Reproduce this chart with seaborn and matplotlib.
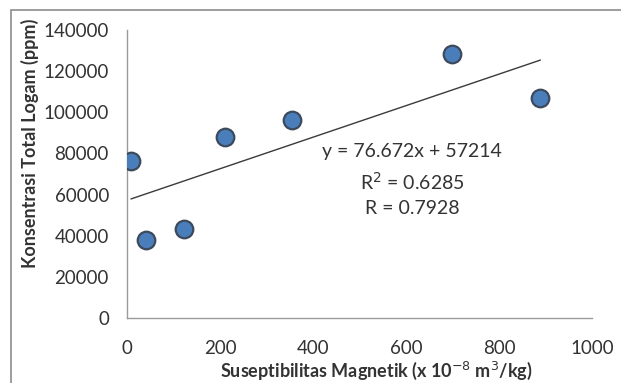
import numpy as np
import pandas as pd
import matplotlib
matplotlib.use('Agg')
import matplotlib.pyplot as plt
from matplotlib.patches import Rectangle
import seaborn as sns

# data
suseptibilitas = [8.5, 41, 123, 210, 355, 699, 889]
konsentrasi = [76550, 37710, 43210, 88040, 96130, 128500, 107140]
slope = 76.672
intercept = 57214
r2 = 0.6285
r = 0.7928

df = pd.DataFrame({'x': suseptibilitas, 'y': konsentrasi})
trend_x = [min(suseptibilitas), max(suseptibilitas)]
trend = pd.DataFrame({'x': trend_x, 'y': [slope * v + intercept for v in trend_x]})

sns.set_style('white')
plt.rcParams['font.family'] = ['Lato', 'DejaVu Sans']

fig = plt.figure(figsize=(6.21, 3.83), dpi=100)
ax = fig.add_axes([0.2045, 0.1697, 0.7488, 0.752])

# chart-area border (only left/top visible in the crop)
fig.patches.append(Rectangle((11 / 621, -0.1), 1.2, 1 - 10 / 383 + 0.1,
                             transform=fig.transFigure, fill=False,
                             edgecolor='#8c8c8c', linewidth=1.2))

sns.lineplot(data=trend, x='x', y='y', ax=ax, color='#3a3a3a', linewidth=1.0)
sns.scatterplot(data=df, x='x', y='y', ax=ax, s=160, color='#4a7ebb',
                edgecolor='#3d4a5c', linewidth=1.6, zorder=3)

ax.set_xlim(0, 1000)
ax.set_ylim(0, 140000)
ax.set_xticks(np.arange(0, 1001, 200))
ax.set_yticks(np.arange(0, 140001, 20000))

for side in ['top', 'right']:
    ax.spines[side].set_visible(False)
for side in ['left', 'bottom']:
    ax.spines[side].set_color('#9a9a9a')
    ax.spines[side].set_linewidth(1.0)

ax.tick_params(axis='both', which='major', direction='out', length=7, width=1,
               color='#9a9a9a', labelsize=13.5, labelcolor='#333333')
ax.tick_params(axis='x', pad=9)
ax.tick_params(axis='y', pad=6)

ax.set_xlabel('Suseptibilitas Magnetik (x 10$^{-8}$ m$^3$/kg)', fontsize=13,
              fontweight='bold', color='#333333')
ax.set_ylabel('Konsentrasi Total Logam (ppm)', fontsize=13,
              fontweight='bold', color='#333333')
ax.xaxis.set_label_coords(0.535, -0.145)
ax.yaxis.set_label_coords(-0.19, 0.605)

ax.text(0.613, 0.479, f'y = {slope}x + {intercept}\nR$^2$ = {r2}\nR = {r}',
        transform=ax.transAxes, ha='center', va='center', fontsize=14,
        color='#333333', linespacing=1.55)

fig.savefig('out.png', dpi=100)
